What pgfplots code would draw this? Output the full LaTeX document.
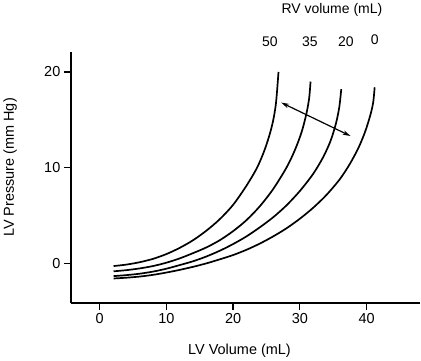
\documentclass[border=0pt]{standalone}
\usepackage{pgfplots}
\pgfplotsset{compat=1.18}
\usepackage{fontspec}
\setmainfont{Liberation Sans}
\usetikzlibrary{arrows.meta}
\begin{document}
\begin{tikzpicture}
\begin{axis}[
  scale only axis,
  width=350pt, height=252pt,
  xmin=-4.3, xmax=48, ymin=-4.2, ymax=22.1,
  axis x line*=bottom, axis y line*=left,
  axis line style={line width=1.9pt},
  xtick={0,10,20,30,40}, ytick={0,10,20},
  tick align=outside, major tick length=7pt,
  tick style={line width=1.2pt, black},
  /pgf/number format/assume math mode=true,
  tick label style={font=\fontsize{14.5}{17}\selectfont},
  label style={font=\fontsize{14.5}{17}\selectfont},
  xlabel={LV Volume (mL)}, ylabel={LV Pressure (mm Hg)},
  xlabel style={at={(axis description cs:0.483,-0.187)},anchor=center},
  ylabel style={at={(axis description cs:-0.174,0.54)},anchor=center},
  clip=false,
]
% RV 50
\addplot[black, line width=1.7pt, smooth] coordinates {
(2.1,-0.3) (4,-0.15) (6,0.1) (8,0.45) (10,0.95) (12,1.6) (14,2.4) (16,3.4) (18,4.6)
(20,6.1) (22,8.1) (23.6,10.0) (24.8,12.0) (25.8,14.3) (26.4,16.6) (26.8,20.0)};
% RV 35
\addplot[black, line width=1.7pt, smooth] coordinates {
(2.1,-0.85) (4,-0.73) (6,-0.55) (8,-0.3) (10,0.05) (12,0.5) (14,1.05) (16,1.65) (18,2.4)
(20,3.35) (22,4.5) (24,5.95) (26,7.75) (28,10.0) (29.3,11.9) (30.3,13.8) (31.0,15.7) (31.4,17.3) (31.6,19.0)};
% RV 20
\addplot[black, line width=1.7pt, smooth] coordinates {
(2.1,-1.35) (4,-1.25) (6,-1.1) (8,-0.88) (10,-0.58) (12,-0.2) (14,0.2) (16,0.7) (18,1.3)
(20,2.0) (22,2.8) (24,3.75) (26,4.8) (28,6.05) (30,7.55) (32,9.35) (33.5,11.1) (34.6,12.8)
(35.4,14.6) (35.9,16.3) (36.2,18.2)};
% RV 0
\addplot[black, line width=1.7pt, smooth] coordinates {
(2.1,-1.6) (4,-1.52) (6,-1.4) (8,-1.22) (10,-0.98) (12,-0.7) (14,-0.38) (16,-0.02) (18,0.4)
(20,0.85) (22,1.4) (24,2.05) (26,2.8) (28,3.65) (30,4.65) (32,5.8) (34,7.15) (36,8.8)
(37.5,10.4) (38.8,12.1) (39.8,13.8) (40.6,15.6) (41.0,16.9) (41.2,18.4)};
% arrow
\addplot[black, line width=1.2pt, {Stealth[length=8pt,width=4.5pt]}-{Stealth[length=8pt,width=4.5pt]}] coordinates {(27.2,16.8) (37.6,13.3)};
\node[font=\fontsize{14}{16}\selectfont] at (axis cs:25.5,23.2) {50};
\node[font=\fontsize{14}{16}\selectfont] at (axis cs:31.5,23.2) {35};
\node[font=\fontsize{14}{16}\selectfont] at (axis cs:36.9,23.2) {20};
\node[font=\fontsize{14}{16}\selectfont] at (axis cs:41.2,23.4) {0};
\node[font=\fontsize{14}{16}\selectfont] at (axis cs:34.8,26.5) {RV volume (mL)};
\end{axis}
\end{tikzpicture}
\end{document}
